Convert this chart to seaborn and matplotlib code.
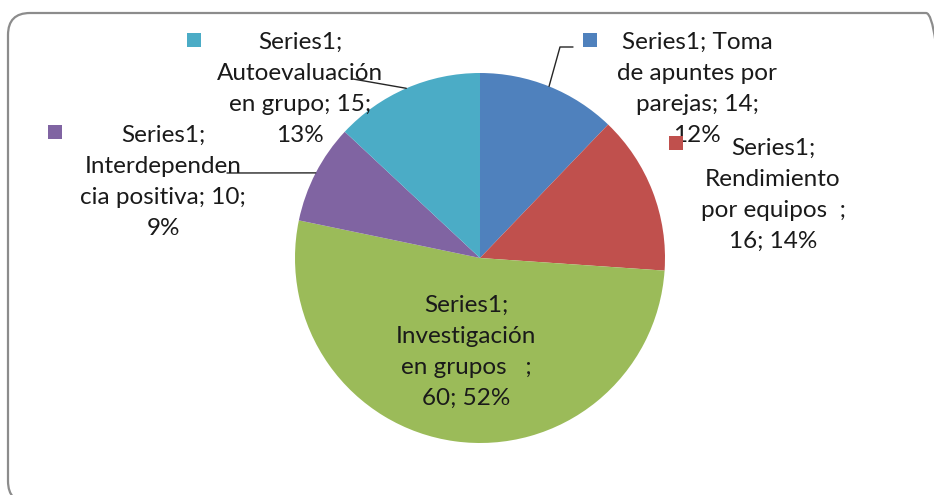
import matplotlib
matplotlib.use("Agg")
import matplotlib.pyplot as plt
from matplotlib.patches import FancyBboxPatch, Rectangle
import numpy as np
import seaborn as sns

# --------------------- Data ---------------------
series_name = "Series1"
categories = [
    "Toma de apuntes por parejas",
    "Rendimiento por equipos",
    "Investigación en grupos",
    "Interdependencia positiva",
    "Autoevaluación en grupo",
]
values = [14, 16, 60, 10, 15]
# label text as Excel wrapped it
label_templates = [
    "{s}; Toma\nde apuntes por\nparejas; {v};\n{p}%",
    "{s};\nRendimiento\npor equipos  ;\n{v}; {p}%",
    "{s};\nInvestigación\nen grupos   ;\n{v}; {p}%",
    "{s};\nInterdependen\ncia positiva; {v};\n{p}%",
    "{s};\nAutoevaluación\nen grupo; {v};\n{p}%",
]
colors = ["#4F81BD", "#C0504D", "#9BBB59", "#8064A2", "#4BACC6"]

# --------------------- Layout (pixels) ---------------------
W, H = 934, 495
CX, CY, R = 480, 258, 185
label_pos = [(697, 89), (773, 195), (466, 352), (163, 182), (300, 89)]
key_pos = [(590, 40), (676, 143), None, (55, 132), (194, 40)]
leader_end = [[(560, 47), (573, 47)], None, None, [(227, 173)], [(353, 79)]]

sns.set_theme(style="white")
plt.rcParams['font.family'] = ['Lato', 'DejaVu Sans']

fig = plt.figure(figsize=(W / 100, H / 100), dpi=100)
ax = fig.add_axes([0, 0, 1, 1])

def py(y):
    return H - y

wedges, _ = ax.pie(values, colors=sns.color_palette(colors), startangle=90,
                   counterclock=False, radius=R, center=(CX, py(CY)),
                   wedgeprops=dict(linewidth=0))
ax.set_xlim(0, W)
ax.set_ylim(0, H)
ax.set_aspect('equal', adjustable='datalim')
ax.axis('off')

# chart frame
frame = FancyBboxPatch((8, py(503)), 940, 490, boxstyle="round,pad=0,rounding_size=22",
                       facecolor="none", edgecolor="#8c8c8c", linewidth=1.6, zorder=0)
ax.add_patch(frame)

total = sum(values)
cum = np.cumsum([0] + values)
for i, v in enumerate(values):
    pct = round(v / total * 100)
    txt = label_templates[i].format(s=series_name, v=v, p=pct)
    lx, ly = label_pos[i]
    ax.text(lx, py(ly), txt, ha="center", va="center", fontsize=17.5,
            color="#1a1a1a", linespacing=1.6, zorder=5)
    if key_pos[i] is not None:
        kx, ky = key_pos[i]
        ax.add_patch(Rectangle((kx - 7, py(ky) - 7), 14, 14, facecolor=colors[i],
                               edgecolor="none", zorder=6))
    if leader_end[i] is not None:
        ang = np.deg2rad((cum[i] + v / 2) / total * 360)
        sx = CX + R * np.sin(ang)
        sy = CY - R * np.cos(ang)
        pts = [(sx, sy)] + leader_end[i]
        ax.plot([p[0] for p in pts], [py(p[1]) for p in pts], color="#262626",
                linewidth=1, zorder=4)

fig.savefig("out.png", dpi=100)
